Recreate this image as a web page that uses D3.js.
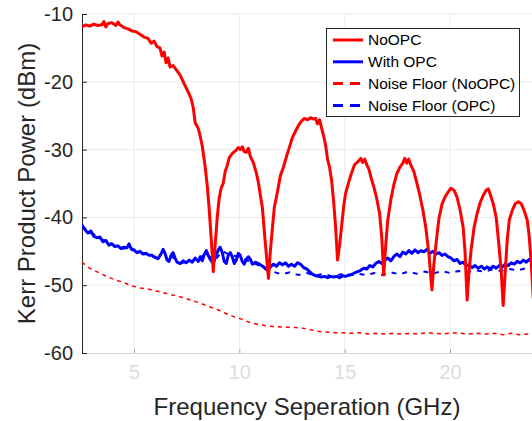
<!DOCTYPE html>
<html>
<head>
  <meta charset="utf-8">
  <script src="https://d3js.org/d3.v7.min.js"></script>
  <style>
    body { margin: 0; background: #fff; }
    text { font-family: "Liberation Sans", Arial, Helvetica, sans-serif; }
  </style>
</head>
<body>
  <div id="chart"></div>
  <script>
    // frequency (GHz) and power (dBm)
    var noOpcFreq = [2.52, 2.71, 2.90, 3.09, 3.28, 3.47, 3.57, 3.66, 3.76, 3.95, 4.14, 4.24, 4.33, 4.52, 4.71, 4.90,
      5.09, 5.28, 5.47, 5.66, 5.81, 5.95, 6.09, 6.23, 6.33, 6.43, 6.52, 6.62, 6.71, 6.85, 7.00, 7.19, 7.38, 7.57,
      7.71, 7.81, 7.90, 8.05, 8.14, 8.24, 8.38, 8.48, 8.57, 8.66, 8.76, 8.85, 8.95, 9.04, 9.14, 9.23, 9.33, 9.42,
      9.52, 9.66, 9.81, 9.95, 10.04, 10.14, 10.23, 10.33, 10.43, 10.52, 10.66, 10.81, 10.90, 11.00, 11.09, 11.19,
      11.28, 11.38, 11.47, 11.57, 11.66, 11.76, 11.85, 11.95, 12.09, 12.24, 12.38, 12.52, 12.66, 12.81, 12.95,
      13.09, 13.24, 13.38, 13.52, 13.62, 13.71, 13.81, 13.90, 14.00, 14.09, 14.19, 14.28, 14.38, 14.47, 14.57,
      14.66, 14.76, 14.85, 14.95, 15.04, 15.19, 15.33, 15.47, 15.62, 15.76, 15.85, 15.95, 16.04, 16.14, 16.24,
      16.38, 16.52, 16.66, 16.76, 16.85, 16.95, 17.04, 17.19, 17.33, 17.47, 17.62, 17.76, 17.85, 17.95, 18.04,
      18.14, 18.28, 18.43, 18.57, 18.71, 18.85, 19.00, 19.09, 19.14, 19.23, 19.33, 19.47, 19.62, 19.76, 19.90,
      20.04, 20.19, 20.33, 20.47, 20.62, 20.71, 20.81, 20.90, 21.00, 21.14, 21.28, 21.43, 21.57, 21.71, 21.81,
      21.90, 22.05, 22.19, 22.33, 22.43, 22.52, 22.62, 22.71, 22.81, 22.95, 23.09, 23.24, 23.38, 23.52, 23.67,
      23.76, 23.86, 23.95];
    var noOpcPower = [-11.9, -11.6, -11.8, -11.5, -11.7, -11.6, -11.1, -11.9, -11.4, -11.3, -11.7, -11.2, -11.6,
      -12.0, -12.2, -12.5, -12.6, -13.0, -13.4, -13.6, -14.3, -14.0, -14.8, -15.0, -16.2, -15.6, -17.2, -16.5,
      -17.8, -17.6, -18.2, -19.0, -20.3, -21.5, -22.5, -23.8, -26.0, -26.9, -28.0, -29.5, -32.6, -35.5, -38.9,
      -43.0, -48.0, -44.0, -40.0, -37.2, -35.6, -35.0, -33.2, -32.4, -31.2, -30.6, -30.2, -29.7, -30.0, -29.6,
      -30.3, -30.4, -29.8, -31.0, -31.9, -33.5, -34.8, -36.8, -38.5, -42.3, -45.5, -49.0, -45.0, -41.5, -38.5,
      -37.0, -35.5, -33.8, -32.6, -31.0, -29.6, -28.2, -27.3, -26.4, -25.8, -25.4, -25.6, -25.3, -25.5, -25.4,
      -26.2, -25.6, -26.8, -28.0, -29.3, -31.5, -32.6, -34.6, -37.5, -41.5, -46.3, -44.0, -41.4, -38.4, -36.5,
      -34.8, -33.4, -32.2, -31.8, -31.3, -31.9, -31.4, -32.2, -32.8, -34.0, -35.5, -37.2, -39.5, -43.0, -48.5,
      -44.0, -40.5, -37.4, -35.2, -33.6, -32.6, -32.0, -31.3, -32.0, -31.4, -32.3, -33.2, -35.0, -36.8, -38.9,
      -41.5, -45.5, -49.0, -50.7, -47.0, -44.0, -40.2, -38.0, -37.0, -36.3, -35.7, -36.0, -37.0, -38.8, -41.4,
      -45.0, -52.2, -48.0, -44.8, -41.5, -39.5, -37.8, -36.8, -36.0, -35.8, -36.5, -38.0, -40.0, -44.4, -48.0,
      -53.0, -48.0, -43.5, -40.4, -39.0, -38.0, -37.7, -38.0, -39.0, -40.5, -42.9, -47.0, -52.0];

    var opcFreq = [2.52, 2.67, 2.81, 2.95, 3.09, 3.24, 3.38, 3.52, 3.66, 3.81, 3.95, 4.09, 4.24, 4.38, 4.52, 4.66,
      4.76, 4.86, 5.00, 5.14, 5.28, 5.43, 5.57, 5.71, 5.86, 6.00, 6.14, 6.28, 6.38, 6.47, 6.57, 6.66, 6.76, 6.85,
      6.95, 7.04, 7.19, 7.33, 7.47, 7.62, 7.76, 7.90, 8.05, 8.14, 8.24, 8.33, 8.43, 8.52, 8.62, 8.71, 8.81, 8.90,
      9.00, 9.09, 9.19, 9.28, 9.38, 9.47, 9.57, 9.66, 9.76, 9.85, 9.95, 10.04, 10.14, 10.23, 10.33, 10.43, 10.52,
      10.62, 10.76, 10.90, 11.05, 11.19, 11.33, 11.47, 11.62, 11.76, 11.90, 12.05, 12.19, 12.33, 12.47, 12.62,
      12.76, 12.90, 13.05, 13.19, 13.33, 13.48, 13.62, 13.76, 13.90, 14.05, 14.19, 14.33, 14.47, 14.62, 14.76,
      14.90, 15.04, 15.19, 15.33, 15.47, 15.62, 15.76, 15.90, 16.05, 16.19, 16.33, 16.47, 16.62, 16.76, 16.90,
      17.05, 17.19, 17.33, 17.47, 17.62, 17.76, 17.90, 18.05, 18.19, 18.33, 18.48, 18.62, 18.76, 18.90, 19.05,
      19.19, 19.33, 19.48, 19.62, 19.76, 19.90, 20.05, 20.19, 20.33, 20.48, 20.62, 20.76, 20.90, 21.05, 21.19,
      21.33, 21.48, 21.62, 21.76, 21.90, 22.05, 22.19, 22.33, 22.48, 22.62, 22.76, 22.90, 23.05, 23.19, 23.33,
      23.48, 23.62, 23.76, 23.90];
    var opcPower = [-41.1, -41.8, -42.3, -42.0, -42.8, -43.0, -42.9, -43.6, -43.4, -44.1, -43.9, -44.3, -44.2,
      -44.6, -44.4, -44.5, -43.9, -44.6, -44.8, -45.2, -45.0, -45.4, -45.3, -45.6, -45.6, -45.9, -46.1, -45.4,
      -44.7, -45.3, -46.3, -46.5, -45.6, -45.2, -46.0, -46.6, -46.8, -46.4, -46.7, -46.3, -46.6, -46.0, -46.5,
      -45.8, -46.4, -45.5, -44.9, -45.6, -46.2, -46.6, -46.4, -45.5, -44.8, -44.4, -45.2, -46.5, -46.8, -45.6,
      -45.2, -45.8, -46.8, -46.3, -45.3, -45.6, -46.5, -46.9, -46.2, -45.8, -46.2, -46.9, -46.6, -46.8, -47.1,
      -47.4, -47.8, -47.3, -46.9, -47.2, -46.7, -47.0, -46.7, -47.2, -46.9, -47.2, -46.7, -46.9, -47.4, -47.6,
      -48.0, -48.4, -48.6, -48.7, -48.8, -48.7, -48.9, -48.7, -48.8, -48.7, -48.9, -48.6, -48.7, -48.5, -48.4,
      -48.2, -48.0, -47.8, -47.5, -47.6, -47.1, -47.3, -46.8, -46.5, -46.8, -46.3, -46.0, -46.4, -45.8, -45.4,
      -45.8, -45.1, -45.4, -44.9, -45.3, -44.8, -45.2, -44.9, -45.1, -44.7, -45.3, -45.0, -45.4, -45.2, -45.6,
      -45.4, -45.8, -46.0, -46.4, -46.2, -46.8, -46.6, -47.1, -47.0, -47.4, -47.1, -47.5, -47.2, -47.6, -47.3,
      -47.6, -47.2, -47.5, -47.1, -47.3, -46.9, -47.1, -46.7, -46.9, -46.5, -46.7, -46.3, -46.6, -46.2, -46.5,
      -46.3];

    var floorNoOpcFreq = [2.52, 2.9, 3.3, 3.7, 4.1, 4.5, 4.9, 5.3, 5.7, 6.1, 6.5, 6.9, 7.3, 7.7, 8.1, 8.5, 8.9,
      9.3, 9.7, 10.1, 10.5, 10.9, 11.3, 11.7, 12.1, 12.5, 12.9, 13.3, 13.7, 14.1, 14.5, 14.9, 15.3, 15.7, 16.1,
      16.5, 16.9, 17.3, 17.7, 18.1, 18.5, 18.9, 19.3, 19.7, 20.1, 20.5, 20.9, 21.3, 21.7, 22.1, 22.5, 22.9, 23.3,
      23.7, 23.9];
    var floorNoOpcPower = [-46.6, -47.5, -48.1, -48.7, -49.2, -49.6, -50.1, -50.4, -50.6, -50.9, -51.2, -51.5,
      -51.8, -52.2, -52.6, -53.1, -53.5, -54.1, -54.6, -55.0, -55.5, -55.8, -56.0, -56.1, -56.2, -56.2, -56.3,
      -56.5, -56.8, -56.9, -57.0, -57.0, -57.1, -57.0, -57.2, -57.1, -57.2, -57.1, -57.2, -57.1, -57.2, -57.0,
      -57.1, -57.2, -57.0, -57.1, -57.2, -57.1, -57.2, -57.1, -57.3, -57.1, -57.3, -57.2, -57.2];

    var floorOpcFreq = [2.52, 3.0, 3.5, 4.0, 4.5, 5.0, 5.5, 6.0, 6.4, 6.8, 7.2, 7.6, 8.0, 8.4, 8.8, 9.2, 9.6,
      10.0, 10.4, 10.8, 11.2, 11.6, 12.0, 12.4, 12.8, 13.2, 13.6, 14.0, 14.4, 14.8, 15.2, 15.6, 16.0, 16.4,
      16.8, 17.2, 17.6, 18.0, 18.4, 18.8, 19.2, 19.6, 20.0, 20.4, 20.8, 21.2, 21.6, 22.0, 22.4, 22.8, 23.2,
      23.6, 23.9];
    var floorOpcPower = [-41.3, -42.3, -43.3, -44.0, -44.6, -44.9, -45.4, -45.9, -45.0, -45.8, -46.8, -46.5,
      -46.3, -45.3, -46.4, -45.0, -45.6, -45.8, -46.4, -46.9, -47.6, -48.0, -48.4, -48.1, -48.5, -48.2, -48.6,
      -48.3, -48.7, -48.4, -48.6, -48.3, -48.5, -48.2, -48.5, -48.1, -48.4, -48.0, -48.3, -48.0, -48.3, -47.9,
      -48.2, -47.9, -48.1, -47.8, -48.0, -47.7, -47.9, -47.6, -47.8, -47.5, -47.7];

    var xTicks = [5, 10, 15, 20];
    var yTicks = [-60, -50, -40, -30, -20, -10];
    var legendLabels = ["NoOPC", "With OPC", "Noise Floor (NoOPC)", "Noise Floor (OPC)"];

    var W = 532, H = 421;
    var pLeft = 82, pTop = 14, pRight = 532, pBottom = 353;

    var svg = d3.select("#chart").append("svg")
      .attr("width", W)
      .attr("height", H);

    var x = d3.scaleLinear().domain([2.53, 23.89]).range([pLeft, pRight]);
    var y = d3.scaleLinear().domain([-60, -10]).range([pBottom, pTop]);

    svg.append("clipPath").attr("id", "clip")
      .append("rect")
      .attr("x", pLeft).attr("y", pTop - 2)
      .attr("width", pRight - pLeft).attr("height", pBottom - pTop + 2);

    // grid
    svg.append("g").selectAll("line").data(yTicks.filter(d => d > -60)).enter().append("line")
      .attr("x1", pLeft).attr("x2", pRight)
      .attr("y1", d => y(d)).attr("y2", d => y(d))
      .attr("stroke", "#ebebeb").attr("stroke-width", 1);
    svg.append("g").selectAll("line").data(xTicks).enter().append("line")
      .attr("x1", d => x(d)).attr("x2", d => x(d))
      .attr("y1", pTop).attr("y2", pBottom)
      .attr("stroke", "#ebebeb").attr("stroke-width", 1);

    // bottom axis (light)
    var xAxis = svg.append("g")
      .attr("transform", `translate(0,${pBottom})`)
      .call(d3.axisBottom(x).tickValues(xTicks).tickSizeInner(-4).tickSizeOuter(0).tickPadding(12));
    xAxis.select(".domain").attr("stroke", "#d6d6d6");
    xAxis.selectAll(".tick line").attr("stroke", "#a6a6a6");
    xAxis.selectAll(".tick text")
      .attr("fill", "#dcdcdc")
      .style("font-size", "20px")
      .style("font-family", "'Liberation Sans', Arial, sans-serif");

    // left axis
    var yAxis = svg.append("g")
      .attr("transform", `translate(${pLeft},0)`)
      .call(d3.axisLeft(y).tickValues(yTicks).tickFormat(d => String(d)).tickSizeInner(-5).tickSizeOuter(0).tickPadding(9));
    yAxis.select(".domain").attr("stroke", "#262626");
    yAxis.selectAll(".tick line").attr("stroke", "#262626");
    yAxis.selectAll(".tick text")
      .attr("fill", "#262626")
      .style("font-size", "20px")
      .style("font-family", "'Liberation Sans', Arial, sans-serif");

    function series(fr, pw) {
      return fr.map((f, i) => ({ f: f, p: pw[i] }));
    }

    var line = d3.line().x(d => x(d.f)).y(d => y(d.p));
    var plot = svg.append("g").attr("clip-path", "url(#clip)");

    plot.append("path").datum(series(floorNoOpcFreq, floorNoOpcPower))
      .attr("fill", "none").attr("stroke", "#ff0000").attr("stroke-width", 1.5)
      .attr("stroke-dasharray", "4,4").attr("d", line);

    plot.append("path").datum(series(opcFreq, opcPower))
      .attr("fill", "none").attr("stroke", "#0000ff").attr("stroke-width", 3)
      .attr("stroke-linejoin", "round").attr("d", line);

    plot.append("path").datum(series(floorOpcFreq, floorOpcPower))
      .attr("fill", "none").attr("stroke", "#0000ff").attr("stroke-width", 2)
      .attr("stroke-dasharray", "5,6").attr("d", line);

    plot.append("path").datum(series(noOpcFreq, noOpcPower))
      .attr("fill", "none").attr("stroke", "#ff0000").attr("stroke-width", 3)
      .attr("stroke-linejoin", "round").attr("d", line);

    // axis labels
    svg.append("text")
      .attr("x", (pLeft + pRight) / 2).attr("y", 415)
      .attr("text-anchor", "middle")
      .attr("fill", "#262626")
      .style("font-size", "24px")
      .text("Frequency Seperation (GHz)");

    svg.append("text")
      .attr("transform", `translate(35,${(pTop + pBottom) / 2}) rotate(-90)`)
      .attr("text-anchor", "middle")
      .attr("fill", "#262626")
      .style("font-size", "24px")
      .text("Kerr Product Power (dBm)");

    // legend
    var legendColors = ["#ff0000", "#0000ff", "#ff0000", "#0000ff"];
    var legendDash = [null, null, "10,7", "10,7"];
    var lg = svg.append("g");
    lg.append("rect")
      .attr("x", 326.5).attr("y", 28.5)
      .attr("width", 193).attr("height", 88)
      .attr("fill", "#fff").attr("stroke", "#262626").attr("stroke-width", 1);
    var items = lg.selectAll("g.item").data(legendLabels).enter().append("g")
      .attr("class", "item")
      .attr("transform", (d, i) => `translate(0,${40 + i * 21.8})`);
    items.append("line")
      .attr("x1", 333).attr("x2", 363).attr("y1", 0).attr("y2", 0)
      .attr("stroke", (d, i) => legendColors[i])
      .attr("stroke-width", 3)
      .attr("stroke-dasharray", (d, i) => legendDash[i]);
    items.append("text")
      .attr("x", 368).attr("y", 0).attr("dy", "0.35em")
      .attr("fill", "#000")
      .style("font-size", "15.5px")
      .text(d => d);
  </script>
</body>
</html>
